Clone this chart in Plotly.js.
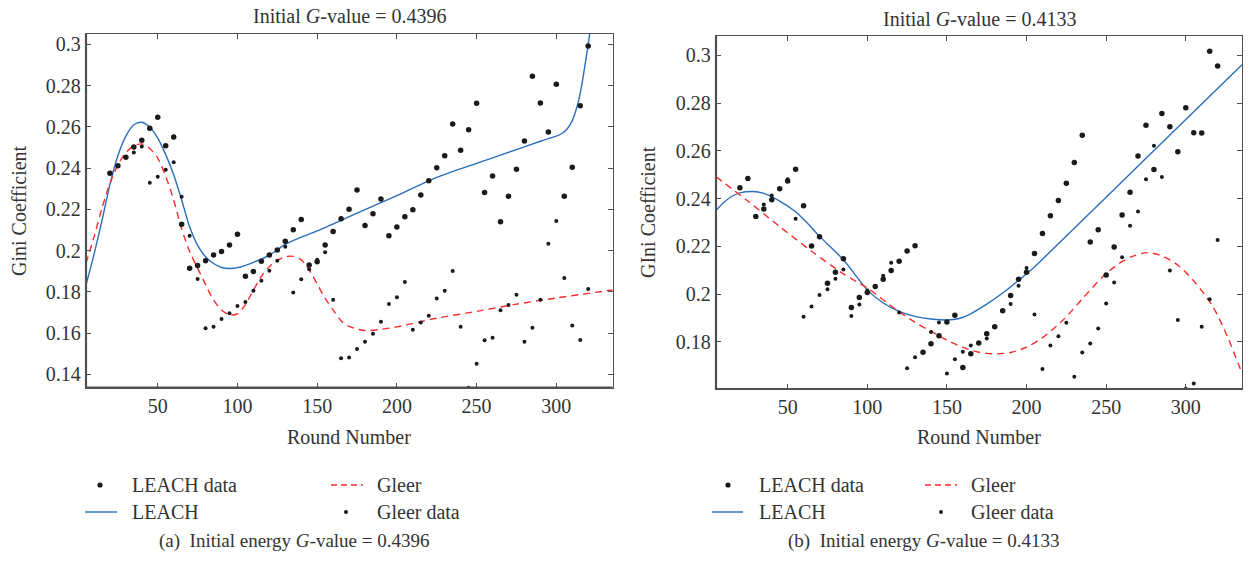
<!DOCTYPE html>
<html><head><meta charset="utf-8">
<script src="https://cdn.plot.ly/plotly-3.0.1.min.js"></script>
<style>html,body{margin:0;padding:0;background:#fff}#chart{width:1250px;height:565px}</style>
</head><body><div id="chart"></div>
<script>
// ---------- data ----------
const roundsAll = [20,25,30,35,40,45,50,55,60,65,70,75,80,85,90,95,100,105,110,115,120,125,130,135,140,145,150,155,160,165,170,175,180,185,190,195,200,205,210,215,220,225,230,235,240,245,250,255,260,265,270,275,280,285,290,295,300,305,310,315,320];

// (a) Initial G-value = 0.4396
const leachDataA = [0.2375,0.2411,0.2452,0.2502,0.2535,0.2593,0.2646,0.2508,0.2551,0.2127,
  0.1914,0.1927,0.1951,0.1978,0.1996,0.2027,0.2079,0.1875,0.1899,0.1948,
  0.1978,0.2003,0.2045,0.2101,0.2150,0.1930,0.1946,0.2027,0.2092,0.2154,
  0.2200,0.2294,0.2121,0.2179,0.2250,0.2072,0.2114,0.2164,0.2198,0.2269,
  0.2339,0.2402,0.2460,0.2614,0.2486,0.2586,0.2714,0.2282,0.2361,0.2140,
  0.2263,0.2394,0.2531,0.2845,0.2715,0.2575,0.2806,0.2263,0.2404,0.2702,
  0.2992];
const gleerRoundsA = [35,40,45,50,55,60,65,70,75,80,85,90,95,100,105,110,115,120,125,130,135,140,145,150,155,160,165,170,175,180,185,190,195,200,205,210,215,220,225,230,235,240,245,250,255,260,265,270,275,280,285,290,295,300,305,310,315,320];
const gleerDataA = [0.2476,0.2504,0.2329,0.2358,0.2392,0.2428,0.2261,0.2072,0.1862,0.1623,
  0.1631,0.1668,0.1696,0.1731,0.1750,0.1805,0.1854,0.1902,0.1951,0.2019,
  0.1796,0.1861,0.1909,0.1955,0.1992,0.1762,0.1478,0.1481,0.1523,0.1558,
  0.1597,0.1655,0.1741,0.1773,0.1848,0.1616,0.1651,0.1684,0.1767,0.1805,
  0.1901,0.1631,0.1335,0.1451,0.1565,0.1577,0.1710,0.1736,0.1786,0.1558,
  0.1626,0.1762,0.2033,0.2143,0.1867,0.1636,0.1566,0.1814];
const leachFitXA = [5,10,15,20,25,30,35,40,45,50,55,60,65,70,75,80,85,90,95,100,110,120,130,140,150,175,200,225,250,280,290,296,300,304,307,310,312,314,316,318,320,322];
const leachFitYA = [0.1833,0.198,0.2145,0.232,0.246,0.2555,0.261,0.2622,0.2598,0.2545,0.2465,0.2368,0.2245,0.2115,0.2025,0.197,0.1937,0.1918,0.1913,0.1917,0.1943,0.1978,0.2030,0.2065,0.2095,0.2181,0.2266,0.2355,0.2423,0.2503,0.2530,0.2545,0.2555,0.2570,0.2592,0.2630,0.2672,0.2728,0.2805,0.2900,0.3000,0.3110];
const gleerFitXA = [5,10,15,20,25,30,35,40,45,50,55,60,65,70,75,80,85,90,95,100,105,110,115,120,125,130,135,140,145,150,155,160,165,170,180,190,200,225,250,275,300,335.3];
const gleerFitYA = [0.1938,0.2065,0.2205,0.2325,0.2415,0.2475,0.2508,0.2517,0.2495,0.2448,0.2360,0.2245,0.2105,0.1995,0.1915,0.1835,0.1760,0.1712,0.1688,0.1693,0.1738,0.1808,0.1875,0.1922,0.1953,0.1970,0.1972,0.1955,0.1905,0.1838,0.1768,0.1712,0.1660,0.1632,0.1612,0.1618,0.1630,0.1672,0.1705,0.1740,0.1770,0.1809];

// (b) Initial G-value = 0.4133
const leachDataB = [0.2446,0.2484,0.2325,0.2357,0.2395,0.2441,0.2474,0.2523,0.2370,0.2202,
  0.2240,0.2046,0.2092,0.2148,0.1944,0.1986,0.2007,0.2032,0.2063,0.2099,
  0.2138,0.2181,0.2203,0.1757,0.1792,0.1826,0.1884,0.1912,0.1693,0.1751,
  0.1796,0.1834,0.1864,0.1931,0.1994,0.2063,0.2092,0.2170,0.2254,0.2328,
  0.2392,0.2464,0.2551,0.2665,0.2218,0.2270,0.2080,0.2198,0.2332,0.2427,
  0.2579,0.2707,0.2522,0.2757,0.2701,0.2596,0.2781,0.2676,0.2675,0.3017,
  0.2955];
const gleerRoundsB = [35,40,50,55,60,65,70,75,80,85,90,95,100,110,115,120,125,130,140,145,150,155,160,165,175,190,195,200,205,210,215,220,225,230,235,240,245,250,255,260,265,270,275,280,285,290,295,300,305,310,315,320];
const gleerDataB = [0.2375,0.2413,0.2481,0.2316,0.1906,0.1948,0.1997,0.2021,0.2065,0.2103,
  0.1909,0.1957,0.2015,0.2077,0.2132,0.1923,0.1690,0.1736,0.1842,0.1881,
  0.1668,0.1728,0.1759,0.1785,0.1814,0.1959,0.2035,0.2110,0.1915,0.1687,
  0.1785,0.1824,0.1880,0.1654,0.1756,0.1793,0.1856,0.1961,0.2049,0.2155,
  0.2286,0.2346,0.2481,0.2622,0.2491,0.2099,0.1892,0.1604,0.1626,0.1864,
  0.1979,0.2227];
const leachFitXB = [5,10,15,20,28,35,45,55,62,70,85,100,110,120,130,140,150,157,165,175,185,195,205,215,250,300,335.3];
const leachFitYB = [0.2350,0.2385,0.2410,0.2424,0.2430,0.2422,0.2390,0.2345,0.2300,0.2242,0.2144,0.2018,0.1963,0.1928,0.1907,0.1896,0.1892,0.1897,0.1918,0.1958,0.2005,0.2058,0.2114,0.2179,0.2406,0.2731,0.2961];
const gleerFitXB = [5,25,45,65,85,100,118,130,140,150,160,170,180,190,200,210,223,235,248,258,266,276,286,296,306,317,326,335.3];
const gleerFitYB = [0.2492,0.2390,0.2283,0.2180,0.2085,0.2026,0.1936,0.1882,0.1845,0.1808,0.1777,0.1757,0.1750,0.1756,0.1778,0.1818,0.1892,0.1980,0.2074,0.2128,0.2157,0.2174,0.2158,0.2116,0.2048,0.1948,0.1825,0.1668];

const xTicks = [50,100,150,200,250,300];
const yTicksA = [0.14,0.16,0.18,0.2,0.22,0.24,0.26,0.28,0.3];
const yTicksB = [0.18,0.2,0.22,0.24,0.26,0.28,0.3];
const tickText = v => String(+v.toFixed(2));

const titleA = 'Initial <i>G</i>-value = 0.4396';
const titleB = 'Initial <i>G</i>-value = 0.4133';
const captionA = '(a)  Initial energy <i>G</i>-value = 0.4396';
const captionB = '(b)  Initial energy <i>G</i>-value = 0.4133';

// ---------- styling ----------
const W = 1250, H = 565;
const FONT = 'Liberation Serif, DejaVu Serif, serif';
const TXT = '#333';
const AX = '#505050';
const BLUE = '#2a6ebd';
const RED = '#ff2a2a';
const DOT = '#1a1a1a';
const X = p => p / W;
const Y = p => 1 - p / H;

function dataTraces(xa, ya, ld, gr, gd, lfx, lfy, gfx, gfy) {
  return [
    {x: lfx, y: lfy, xaxis: xa, yaxis: ya, type: 'scatter', mode: 'lines',
     line: {color: BLUE, width: 1.4, shape: 'spline', smoothing: 0.8}, hoverinfo: 'skip'},
    {x: gfx, y: gfy, xaxis: xa, yaxis: ya, type: 'scatter', mode: 'lines',
     line: {color: RED, width: 1.4, dash: '7px,5px', shape: 'spline', smoothing: 0.8}, hoverinfo: 'skip'},
    {x: roundsAll, y: ld, xaxis: xa, yaxis: ya, type: 'scatter', mode: 'markers',
     marker: {color: DOT, size: 5.5}, cliponaxis: true},
    {x: gr, y: gd, xaxis: xa, yaxis: ya, type: 'scatter', mode: 'markers',
     marker: {color: DOT, size: 4}, cliponaxis: true}
  ];
}

const traces = [
  ...dataTraces('x', 'y', leachDataA, gleerRoundsA, gleerDataA, leachFitXA, leachFitYA, gleerFitXA, gleerFitYA),
  ...dataTraces('x2', 'y2', leachDataB, gleerRoundsB, gleerDataB, leachFitXB, leachFitYB, gleerFitXB, gleerFitYB)
];

function xAxis(domain, anchor) {
  return {domain, anchor, range: [5, 335.3], tickvals: xTicks, ticks: 'inside', ticklen: 5,
    tickwidth: 1, tickcolor: AX, showline: true, linewidth: 1.2, linecolor: AX, mirror: 'ticks',
    showgrid: false, zeroline: false, tickfont: {family: FONT, size: 20, color: TXT}, fixedrange: true};
}
function yAxis(domain, anchor, range, ticks) {
  return {domain, anchor, range, tickvals: ticks, ticktext: ticks.map(tickText), ticks: 'inside', ticklen: 5,
    tickwidth: 1, tickcolor: AX, showline: true, linewidth: 1.2, linecolor: AX, mirror: 'ticks',
    showgrid: false, zeroline: false, tickfont: {family: FONT, size: 20, color: TXT}, fixedrange: true};
}

const ann = (text, x, y, opts = {}) => Object.assign({text, x: X(x), y: Y(y), xref: 'paper', yref: 'paper',
  showarrow: false, font: {family: FONT, size: 20, color: TXT}, xanchor: 'center', yanchor: 'middle'}, opts);

const annotations = [
  ann(titleA, 349, 16),
  ann(titleB, 979, 19),
  ann('Round Number', 349, 437),
  ann('Round Number', 979, 437),
  ann('Gini Coefficient', 19, 211, {textangle: -90}),
  ann('GIni Coefficient', 648, 212, {textangle: -90}),
  ann('LEACH data', 130, 485, {xanchor: 'left'}),
  ann('LEACH', 130, 512, {xanchor: 'left'}),
  ann('Gleer', 375, 485, {xanchor: 'left'}),
  ann('Gleer data', 375, 512, {xanchor: 'left'}),
  ann('LEACH data', 757, 485, {xanchor: 'left'}),
  ann('LEACH', 757, 512, {xanchor: 'left'}),
  ann('Gleer', 969, 485, {xanchor: 'left'}),
  ann('Gleer data', 969, 512, {xanchor: 'left'}),
  ann(captionA, 294, 541, {font: {family: FONT, size: 19, color: TXT}}),
  ann(captionB, 924, 541, {font: {family: FONT, size: 19, color: TXT}})
];

const dot = (cx, cy, r) => ({type: 'circle', xref: 'paper', yref: 'paper', x0: X(cx - r), x1: X(cx + r),
  y0: Y(cy + r), y1: Y(cy - r), fillcolor: DOT, line: {width: 0}});
const seg = (x0, x1, y, color, dash) => ({type: 'line', xref: 'paper', yref: 'paper', x0: X(x0), x1: X(x1),
  y0: Y(y), y1: Y(y), line: {color, width: 1.4, dash: dash || 'solid'}});
const edge = (xref, yref, x0, x1, y0, y1) => ({type: 'line', xref, yref, x0, x1, y0, y1, layer: 'above',
  line: {color: AX, width: 2.2}});

const shapes = [
  dot(100, 485, 2.6), seg(85, 117, 512, BLUE), seg(331, 363, 485, RED, '6px,4px'), dot(346, 512, 2),
  dot(728, 485, 2.6), seg(712, 743, 512, BLUE), seg(925, 957, 485, RED, '6px,4px'), dot(941, 512, 2),
  edge('x domain', 'y domain', 0, 0, 0, 1), edge('x domain', 'y domain', 0, 1, 0, 0),
  edge('x2 domain', 'y2 domain', 0, 0, 0, 1), edge('x2 domain', 'y2 domain', 0, 1, 0, 0)
];

const layout = {
  width: W, height: H, margin: {l: 0, r: 0, t: 0, b: 0},
  paper_bgcolor: '#fff', plot_bgcolor: '#fff', showlegend: false,
  font: {family: FONT, color: TXT},
  xaxis: xAxis([X(86), X(612.6)], 'y'),
  yaxis: yAxis([Y(387.7), Y(34)], 'x', [0.1335, 0.305], yTicksA),
  xaxis2: xAxis([X(716), X(1242)], 'y2'),
  yaxis2: yAxis([Y(389), Y(36)], 'x2', [0.1603, 0.3081], yTicksB),
  annotations, shapes
};

Plotly.newPlot('chart', traces, layout, {staticPlot: true, displayModeBar: false});
</script>
</body></html>
